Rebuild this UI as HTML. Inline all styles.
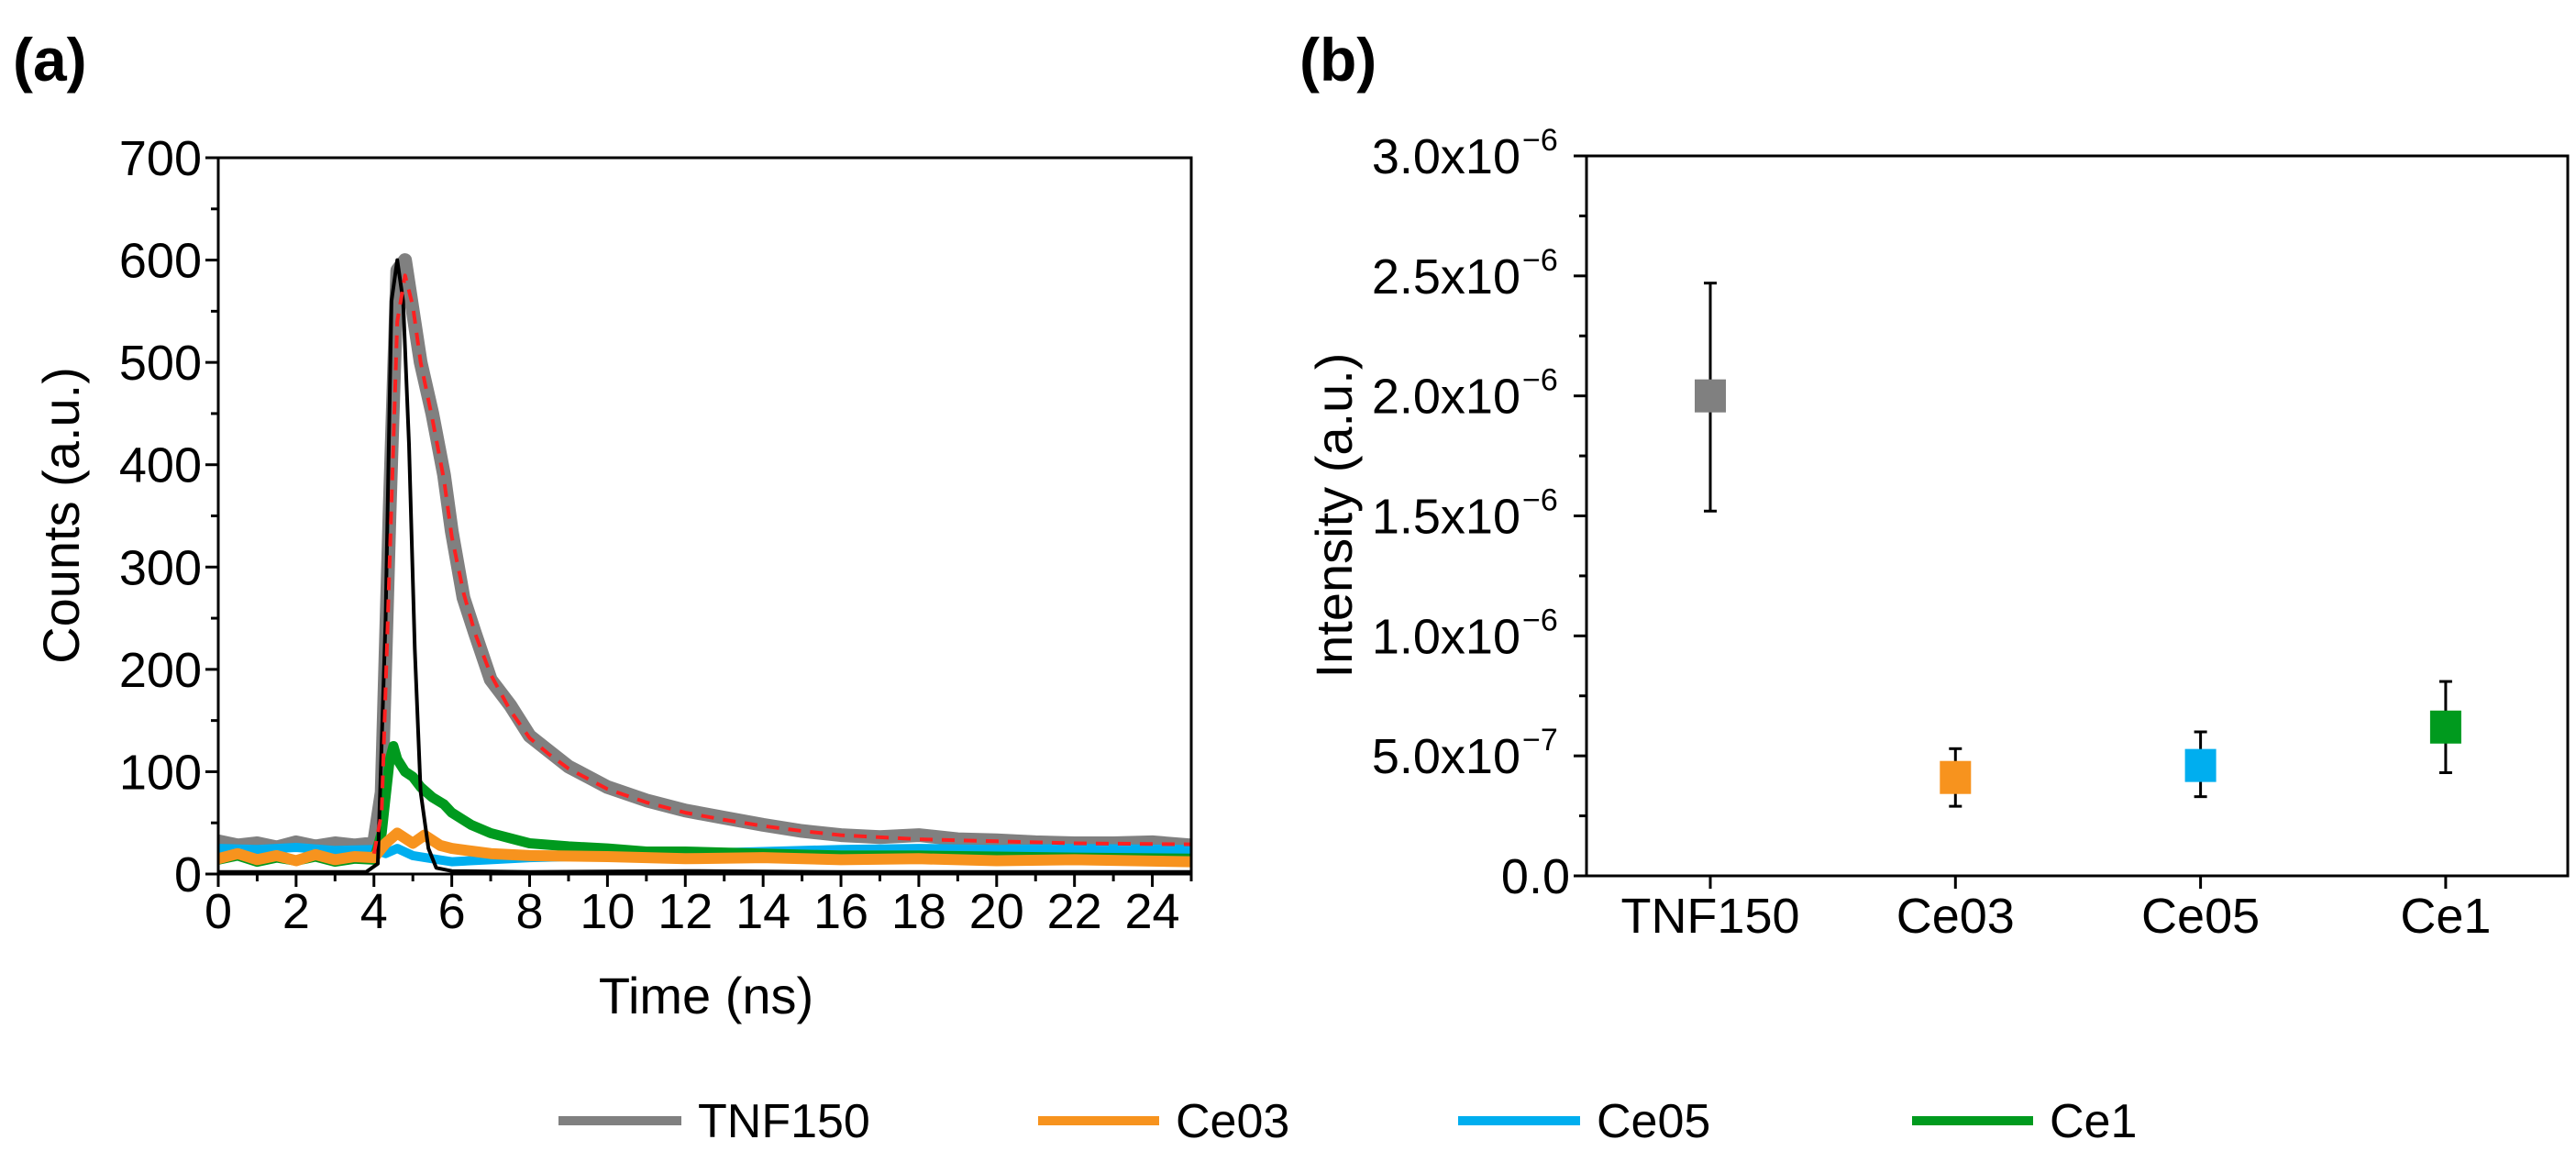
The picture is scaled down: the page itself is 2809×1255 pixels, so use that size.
<!DOCTYPE html>
<html><head><meta charset="utf-8"><style>
html,body{margin:0;padding:0;background:#fff;}
svg{display:block;font-family:"Liberation Sans",Arial,sans-serif;}
</style></head><body>
<svg id="fig" width="2809" height="1255" viewBox="0 0 2809 1255" xmlns="http://www.w3.org/2000/svg">
<text x="14" y="88" font-size="66" font-weight="bold">(a)</text>
<text x="1417" y="88" font-size="66" font-weight="bold">(b)</text>
<g id="pa"></g>
<g id="pb"></g>
<g id="legend">
 <g><line x1="609" y1="1222" x2="743" y2="1222" stroke="#808080" stroke-width="10"/><text x="761" y="1240" font-size="52">TNF150</text></g>
 <g><line x1="1132" y1="1222" x2="1264" y2="1222" stroke="#f7931e" stroke-width="10"/><text x="1282" y="1240" font-size="52">Ce03</text></g>
 <g><line x1="1590" y1="1222" x2="1723" y2="1222" stroke="#00aeef" stroke-width="10"/><text x="1741" y="1240" font-size="52">Ce05</text></g>
 <g><line x1="2085" y1="1222" x2="2217" y2="1222" stroke="#009a1e" stroke-width="10"/><text x="2235" y="1240" font-size="52">Ce1</text></g>
</g>
</svg>
<script>
// ---- Panel (a) data ----
const tGray=[0,0.5,1,1.5,2,2.5,3,3.5,4,4.2,4.4,4.6,4.8,5,5.2,5.5,5.8,6,6.3,6.6,7,7.5,8,8.5,9,9.5,10,11,12,13,14,15,16,17,18,19,20,21,22,23,24,25];
const yGray=[32,28,30,26,31,27,30,28,30,80,350,590,600,550,500,450,390,335,270,235,190,165,135,120,105,95,85,72,62,55,48,42,38,36,38,34,33,31,30,30,31,28];
const tFit=[4,4.2,4.4,4.6,4.8,5,5.2,5.5,5.8,6,6.3,6.6,7,7.5,8,8.5,9,10,11,12,13,14,15,16,18,20,22,25];
const yFit=[20,60,300,540,585,555,500,445,385,330,275,235,195,160,133,117,103,83,70,60,53,47,42,38,34,32,30,29];
const tIrf=[0,3.8,4.1,4.3,4.45,4.6,4.75,4.9,5.05,5.2,5.4,5.6,6,8,12,16,20,25];
const yIrf=[2,2,10,250,560,600,560,420,220,80,25,6,3,2,3,2,2,2];
const tGreen=[0,0.5,1,1.5,2,2.5,3,3.5,4,4.2,4.4,4.5,4.6,4.8,5,5.2,5.5,5.8,6,6.5,7,7.5,8,9,10,11,12,14,16,18,20,22,25];
const yGreen=[14,18,12,16,13,17,12,15,14,40,110,125,112,100,95,85,75,68,60,48,40,35,30,27,25,22,22,20,18,18,17,16,15];
const tOrange=[0,0.5,1,1.5,2,2.5,3,3.5,4,4.3,4.6,5,5.3,5.7,6,7,8,10,12,14,16,18,20,22,25];
const yOrange=[15,20,14,18,13,19,14,17,16,30,40,30,38,28,25,20,18,17,15,16,14,15,13,14,12];
const tBlue=[0,1,2,3,4,4.3,4.6,5,5.5,6,7,8,10,12,14,16,18,20,22,25];
const yBlue=[25,24,26,23,24,20,25,18,15,12,14,16,18,20,22,24,25,24,25,24];
const xTicksA=[0,2,4,6,8,10,12,14,16,18,20,22,24];
const yTicksA=[0,100,200,300,400,500,600,700];
// ---- Panel (b) data ----
const cats=["TNF150","Ce03","Ce05","Ce1"];
const vals=[2.0e-6,0.41e-6,0.46e-6,0.62e-6];
const errLo=[1.52e-6,0.29e-6,0.33e-6,0.43e-6];
const errHi=[2.47e-6,0.53e-6,0.60e-6,0.81e-6];
const yTicksB=[0,0.5e-6,1.0e-6,1.5e-6,2.0e-6,2.5e-6,3.0e-6];
const yTickLabB=[["0.0",""],["5.0x10","−7"],["1.0x10","−6"],["1.5x10","−6"],["2.0x10","−6"],["2.5x10","−6"],["3.0x10","−6"]];
const colB=["#808080","#f7931e","#00aeef","#009a1e"];

const NS="http://www.w3.org/2000/svg";
function mk(p,tag,attrs){const e=document.createElementNS(NS,tag);for(const k in attrs)e.setAttribute(k,attrs[k]);p.appendChild(e);return e;}

// Panel a
const A={l:238,r:1299,t:172,b:953};
const xa=t=>A.l+t*(A.r-A.l)/25, ya=v=>A.b-v*(A.b-A.t)/700;
const pa=document.getElementById('pa');
function series(tArr,yArr,col,w,name,dash){
  const d=tArr.map((t,i)=>(i?'L':'M')+xa(t).toFixed(1)+','+ya(yArr[i]).toFixed(1)).join('');
  const p=mk(pa,'path',{d:d,fill:'none',stroke:col,'stroke-width':w,'stroke-linejoin':'round'});
  if(dash)p.setAttribute('stroke-dasharray',dash);
  
  
}
series(tGray,yGray,'#808080',15,'tnf150-line');
series(tBlue,yBlue,'#00aeef',10,'ce05-line');
series(tGreen,yGreen,'#009a1e',11,'ce1-line');
series(tOrange,yOrange,'#f7931e',12,'ce03-line');
series(tIrf,yIrf,'#000',4,'irf-line');
series(tFit,yFit,'#ff2020',4,'fit-line','14,10');
mk(pa,'rect',{x:A.l,y:A.t,width:A.r-A.l,height:A.b-A.t,fill:'none',stroke:'#000','stroke-width':3});
for(let t=0;t<=25;t++){const big=t%2===0;mk(pa,'line',{x1:xa(t),y1:A.b,x2:xa(t),y2:A.b+(big?14:8),stroke:'#000','stroke-width':3});}
xTicksA.forEach(t=>{const e=mk(pa,'text',{x:xa(t),y:1012,'font-size':54,'text-anchor':'middle'});e.textContent=t;

});
for(let v=0;v<=700;v+=50){const big=v%100===0;mk(pa,'line',{x1:A.l,y1:ya(v),x2:A.l-(big?14:8),y2:ya(v),stroke:'#000','stroke-width':3});}
yTicksA.forEach(v=>{const e=mk(pa,'text',{x:A.l-18,y:ya(v)+19,'font-size':54,'text-anchor':'end'});e.textContent=v;

});
let e=mk(pa,'text',{x:770,y:1105,'font-size':56,'text-anchor':'middle'});e.textContent='Time (ns)';


e=mk(pa,'text',{x:0,y:0,'font-size':56,'text-anchor':'middle',transform:'translate(86,562) rotate(-90)'});e.textContent='Counts (a.u.)';



// Panel b
const B={l:1730,r:2800,t:170,b:955};
const xb=i=>1865+i*267.3, yb=v=>B.b-v*(B.b-B.t)/3e-6;
const pb=document.getElementById('pb');
mk(pb,'rect',{x:B.l,y:B.t,width:B.r-B.l,height:B.b-B.t,fill:'none',stroke:'#000','stroke-width':3});
for(let k=0;k<=12;k++){const v=k*0.25e-6,big=k%2===0;mk(pb,'line',{x1:B.l,y1:yb(v),x2:B.l-(big?14:8),y2:yb(v),stroke:'#000','stroke-width':3});}
yTicksB.forEach((v,i)=>{const t=mk(pb,'text',{x:B.l-(yTickLabB[i][1]?72:18),y:yb(v)+19,'font-size':54,'text-anchor':'end'});t.textContent=yTickLabB[i][0];


if(yTickLabB[i][1]){const s=mk(pb,'text',{x:B.l-70,y:yb(v)-6,'font-size':34,'text-anchor':'start'});s.textContent=yTickLabB[i][1];

}});
cats.forEach((c,i)=>{
  const x=xb(i);
  mk(pb,'line',{x1:x,y1:B.b,x2:x,y2:B.b+14,stroke:'#000','stroke-width':3});
  const t=mk(pb,'text',{x:x,y:1017,'font-size':54,'text-anchor':'middle'});t.textContent=c;
  
  
  const g=mk(pb,'g',{});
  
  
  mk(g,'line',{x1:x,y1:yb(errLo[i]),x2:x,y2:yb(errHi[i]),stroke:'#000','stroke-width':3});
  mk(g,'line',{x1:x-7,y1:yb(errLo[i]),x2:x+7,y2:yb(errLo[i]),stroke:'#000','stroke-width':3});
  mk(g,'line',{x1:x-7,y1:yb(errHi[i]),x2:x+7,y2:yb(errHi[i]),stroke:'#000','stroke-width':3});
  mk(g,'rect',{x:x-17,y:yb(vals[i])-18,width:34,height:36,fill:colB[i]});
});
e=mk(pb,'text',{x:0,y:0,'font-size':56,'text-anchor':'middle',transform:'translate(1474,562) rotate(-90)'});e.textContent='Intensity (a.u.)';


</script>
</body></html>
